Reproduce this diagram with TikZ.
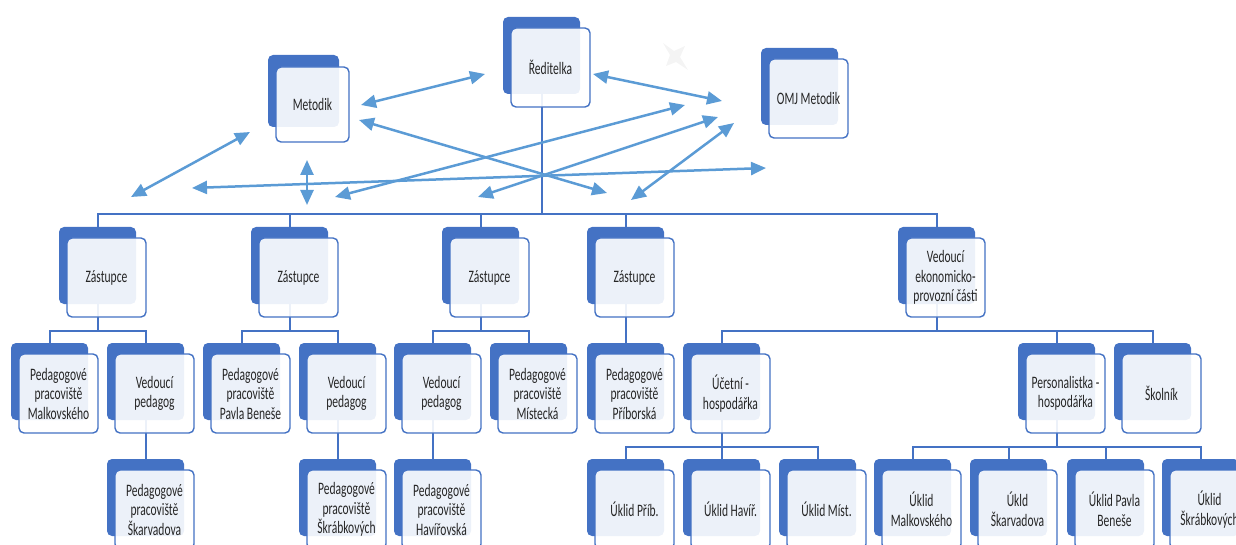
\documentclass[tikz,border=0pt]{standalone}
\usepackage{fontspec}
\newfontfamily\boxfont[FakeStretch=0.66]{Carlito}
\usetikzlibrary{arrows.meta,backgrounds,calc}
\definecolor{dkblue}{HTML}{4472C4}
\definecolor{arrblue}{HTML}{5B9BD5}
\definecolor{txt}{HTML}{262626}
\tikzset{
 backbox/.style={fill=dkblue, rounded corners=5pt, minimum width=77pt, minimum height=77pt, inner sep=0pt, draw=none},
 frontbox/.style={fill=white, fill opacity=0.9, text opacity=1, draw=dkblue, line width=1.4pt, rounded corners=5pt, minimum width=79pt, minimum height=79pt, inner sep=0pt, align=center, font=\boxfont\fontsize{17.5}{19.5}\selectfont, text=txt},
 treeline/.style={draw=dkblue, line width=2pt},
 relarrow/.style={draw=arrblue, line width=2.5pt, {Triangle[length=15pt,width=13pt]}-{Triangle[length=15pt,width=13pt]}},
}
\newcommand{\obox}[4]{%
 \node[backbox] (#1-b) at ({#2+38.5},{#3+38.5}) {};
 \node[frontbox] (#1) at ({#2+47.5},{#3+50.5}) {#4};}
\begin{document}
\begin{tikzpicture}[x=1pt,y=-1pt]
\useasboundingbox (0,0) rectangle (1236,545);
\clip (0,0) rectangle (1236,545);
% faint star
\fill[gray!9] (663,43) -- (674,51) -- (685,46) -- (680,57) -- (688,70) -- (676,62) -- (666,66) -- (670,55) -- cycle;
% top row
\node[backbox, minimum width=71pt, minimum height=72pt] (met-b) at (303.5,91) {};
\node[frontbox, minimum width=73pt, minimum height=75pt] (met) at (312.5,104.5) {Metodik};
\obox{red}{503}{17}{Ředitelka}
\obox{omj}{761}{48}{OMJ Metodik}
% level 2
\obox{z1}{59}{227}{Zástupce}
\obox{z2}{251}{227}{Zástupce}
\obox{z3}{442}{227}{Zástupce}
\obox{z4}{587}{227}{Zástupce}
\obox{ek}{898}{227}{Vedoucí\\ekonomicko-\\provozní části}
% level 3
\obox{l1}{11}{343}{Pedagogové\\pracoviště\\Malkovského}
\obox{l2}{107}{343}{Vedoucí\\pedagog}
\obox{l3}{203}{343}{Pedagogové\\pracoviště\\Pavla Beneše}
\obox{l4}{299}{343}{Vedoucí\\pedagog}
\obox{l5}{394}{343}{Vedoucí\\pedagog}
\obox{l6}{490}{343}{Pedagogové\\pracoviště\\Místecká}
\obox{l7}{587}{343}{Pedagogové\\pracoviště\\Příborská}
\obox{l8}{683}{343}{Účetní -\\hospodářka}
\obox{l9}{1018}{343}{Personalistka -\\hospodářka}
\obox{l10}{1114}{343}{Školník}
% level 4
\obox{m1}{107}{459}{Pedagogové\\pracoviště\\Škarvadova}
\obox{m2}{299}{459}{Pedagogové\\pracoviště\\Škrábkových}
\obox{m3}{394}{459}{Pedagogové\\pracoviště\\Havířovská}
\obox{u1}{587}{459}{Úklid Příb.}
\obox{u2}{683}{459}{Úklid Havíř.}
\obox{u3}{779}{459}{Úklid Míst.}
\obox{u4}{874}{459}{Úklid\\Malkovského}
\obox{u5}{970}{459}{Úkld\\Škarvadova}
\obox{u6}{1067}{459}{Úklid Pavla\\Beneše}
\obox{u7}{1162}{459}{Úklid\\Škrábkových}
% tree connectors
\begin{pgfonlayer}{background}
\coordinate (bar0) at (0,214);
\coordinate (bar1) at (0,331);
\coordinate (bar2) at (0,445);
\foreach \c in {z1,z2,z3,z4,ek}
  \draw[treeline] (red-b.center) |- (bar0 -| \c-b.north) -- (\c-b.north);
\foreach \p/\c in {z1/l1,z1/l2,z2/l3,z2/l4,z3/l5,z3/l6,z4/l7,ek/l8,ek/l9,ek/l10,
                   l2/m1,l4/m2,l5/m3,l8/u1,l8/u2,l8/u3,l9/u4,l9/u5,l9/u6,l9/u7}
  \draw[treeline] (\p-b.center) |- ($(\c-b.north)+(0,-12)$) -- (\c-b.north);
\end{pgfonlayer}
% relation arrows
\coordinate (a1s) at (361,105); \coordinate (a1e) at (485,74);
\coordinate (a2s) at (593,74);  \coordinate (a2e) at (722,101);
\coordinate (a3s) at (359,120); \coordinate (a3e) at (607,193);
\coordinate (a4s) at (131,197); \coordinate (a4e) at (250,132);
\coordinate (a5s) at (307,160); \coordinate (a5e) at (307,205);
\coordinate (a6s) at (192,188); \coordinate (a6e) at (766,168);
\coordinate (a7s) at (335,197); \coordinate (a7e) at (685,105);
\coordinate (a8s) at (478,197); \coordinate (a8e) at (718,117);
\coordinate (a9s) at (631,200); \coordinate (a9e) at (734,123);
\foreach \i in {1,...,9} \draw[relarrow] (a\i s) -- (a\i e);
\end{tikzpicture}
\end{document}
